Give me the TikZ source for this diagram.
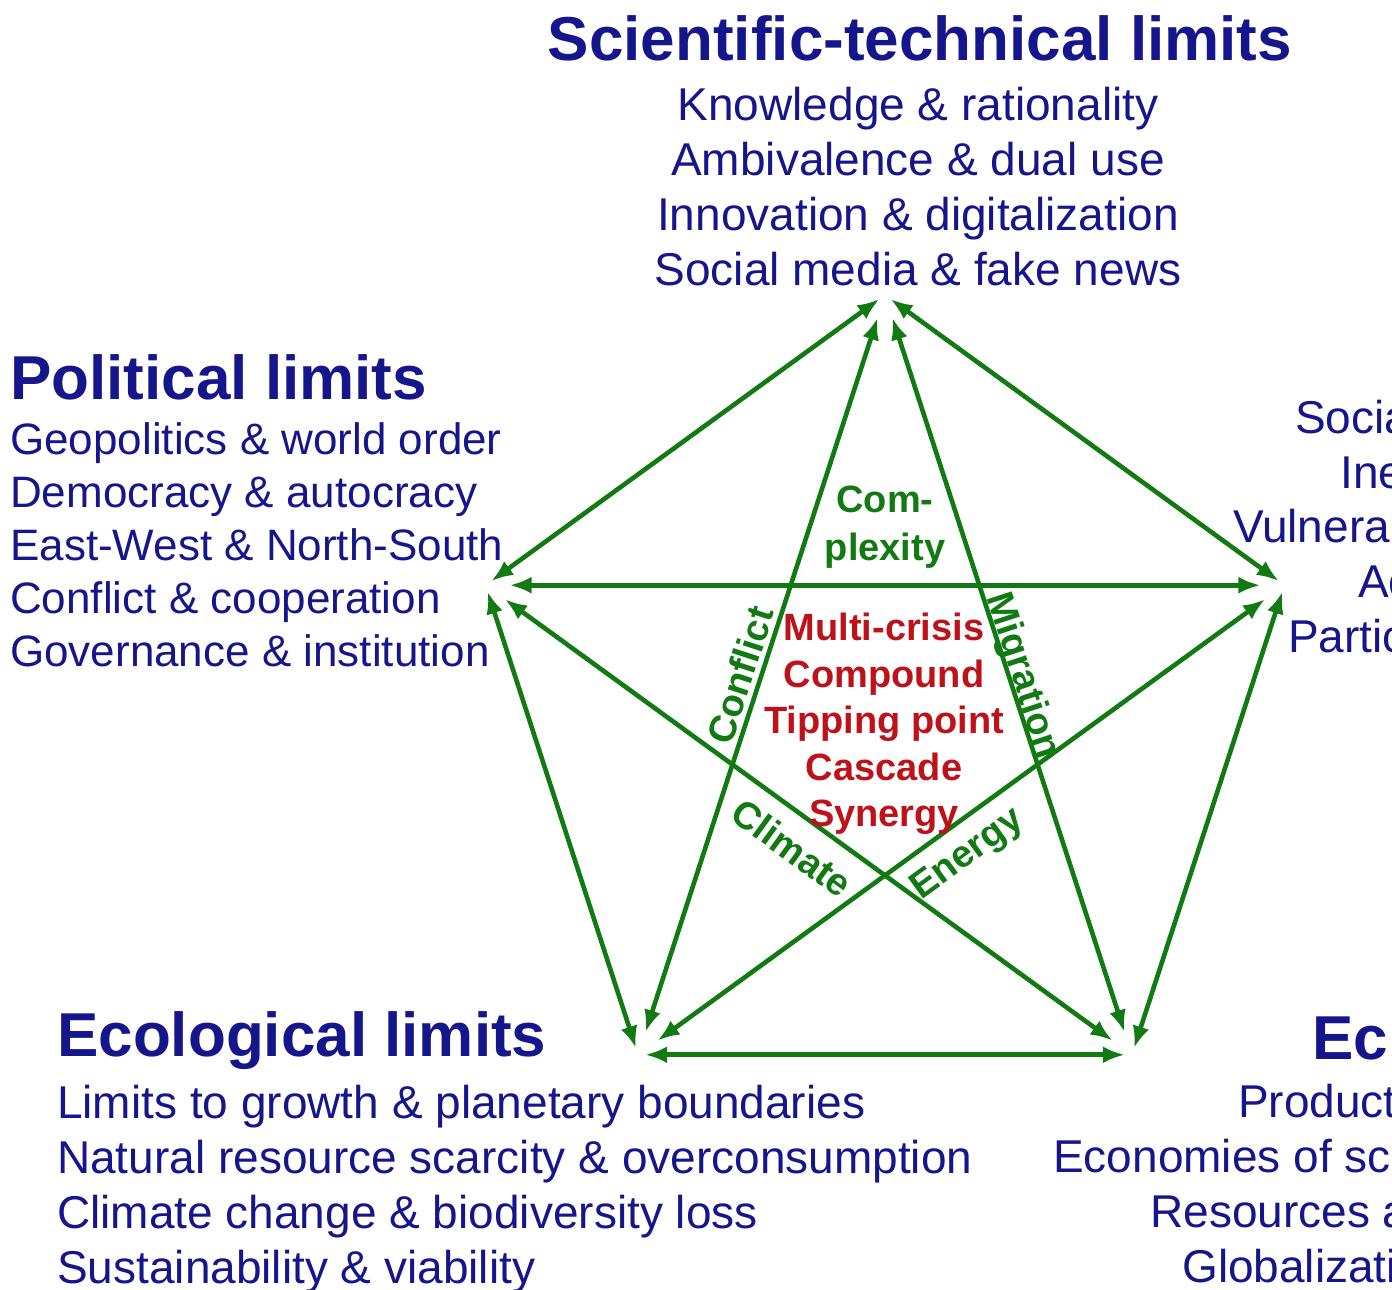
\documentclass[tikz,border=0pt]{standalone}
\usepackage{fontspec}
\setmainfont{Liberation Sans}
\usepackage{tikz}
\usetikzlibrary{arrows.meta}

\definecolor{limitBlue}{RGB}{22,22,140}
\definecolor{linkGreen}{RGB}{18,122,18}
\definecolor{crisisRed}{RGB}{190,18,26}

\begin{document}
\begin{tikzpicture}[x=1pt, y=1pt, >={Latex[length=22pt,width=17pt]},
        side/.style={<->, linkGreen, line width=4.6pt, shorten <=7pt, shorten >=7pt},
        diag/.style={<->, linkGreen, line width=4.6pt, shorten <=24pt, shorten >=24pt},
        head/.style={limitBlue, inner sep=0pt, font=\fontsize{62}{66}\selectfont\bfseries},
        item/.style={limitBlue, inner sep=0pt, font=\fontsize{46}{55}\selectfont},
        tag/.style={linkGreen, inner sep=0pt, font=\fontsize{38}{48}\selectfont\bfseries},
        crisis/.style={crisisRed, inner sep=0pt, font=\fontsize{38}{46.5}\selectfont\bfseries}]
        \def\rad{420}

        \useasboundingbox (0,0) rectangle (1392,1290);

        % corners of the pentagon
        \begin{scope}[shift={(885,575)}]
            \coordinate (vSci) at (90:\rad);
            \coordinate (vPol) at (162:\rad);
            \coordinate (vSoc) at (18:\rad);
            \coordinate (vEcol) at (234:\rad);
            \coordinate (vEcon) at (306:\rad);
        \end{scope}

        \draw[side] (vSci) -- (vPol);
        \draw[side] (vSci) -- (vSoc);
        \draw[side] (vPol) -- (vEcol);
        \draw[side] (vSoc) -- (vEcon);
        \draw[side] (vEcol) -- (vEcon);

        \draw[diag] (vSci) -- (vEcol);
        \draw[diag] (vSci) -- (vEcon);
        \draw[diag] (vPol) -- (vSoc);
        \draw[diag] (vPol) -- (vEcon);
        \draw[diag] (vSoc) -- (vEcol);

        % scientific-technical
        \node[head, anchor=base] (sciHead) at (920,1229) {Scientific-technical limits};
        \node[item, align=center, anchor=north] (sciItems) at (918,1203)
            {Knowledge \& rationality\\ Ambivalence \& dual use\\ Innovation \& digitalization\\ Social media \& fake news};

        % political
        \node[head, anchor=base west] (polHead) at (10,890) {Political limits};
        \node[item, align=left, anchor=north west, font=\fontsize{44}{53}\selectfont] (polItems) at (10,868)
            {Geopolitics \& world order\\ Democracy \& autocracy\\ East-West \& North-South\\ Conflict \& cooperation\\ Governance \& institution};

        % ecological
        \node[head, anchor=base west] (ecolHead) at (57,233) {Ecological limits};
        \node[item, align=left, anchor=north west] (ecolItems) at (57,205)
            {Limits to growth \& planetary boundaries\\ Natural resource scarcity \& overconsumption\\ Climate change \& biodiversity loss\\ Sustainability \& viability};

        % social (runs off the page)
        \node[item, anchor=base west] (soc1) at (1295,856) {Socia};
        \node[item, anchor=base west] (soc2) at (1340,801) {Ine};
        \node[item, anchor=base west] (soc3) at (1233,747) {Vulnera};
        \node[item, anchor=base west] (soc4) at (1358,692) {Ac};
        \node[item, anchor=base west] (soc5) at (1288,637) {Partic};

        % economic (runs off the page)
        \node[head, anchor=base west] (econHead) at (1312,230) {Ec};
        \node[item, anchor=base west] (econ1) at (1238,172) {Product};
        \node[item, anchor=base west] (econ2) at (1053,117) {Economies of sc};
        \node[item, anchor=base west] (econ3) at (1150,62) {Resources a};
        \node[item, anchor=base west] (econ4) at (1182,7) {Globalizati};

        % labels inside the star
        \node[tag, align=center, anchor=north] (complexity) at (885,804) {Com-\\ plexity};
        \node[tag, rotate=72] (conflict) at (740,615) {Conflict};
        \node[tag, rotate=-72] (migration) at (1022,614) {Migration};
        \node[tag, rotate=-36] (climate) at (792,442) {Climate};
        \node[tag, rotate=36] (energy) at (968,435) {Energy};

        \node[crisis, align=center, anchor=north] (crisisList) at (884,677)
            {Multi-crisis\\ Compound\\ Tipping point\\ Cascade\\ Synergy};
    \end{tikzpicture}
\end{document}
